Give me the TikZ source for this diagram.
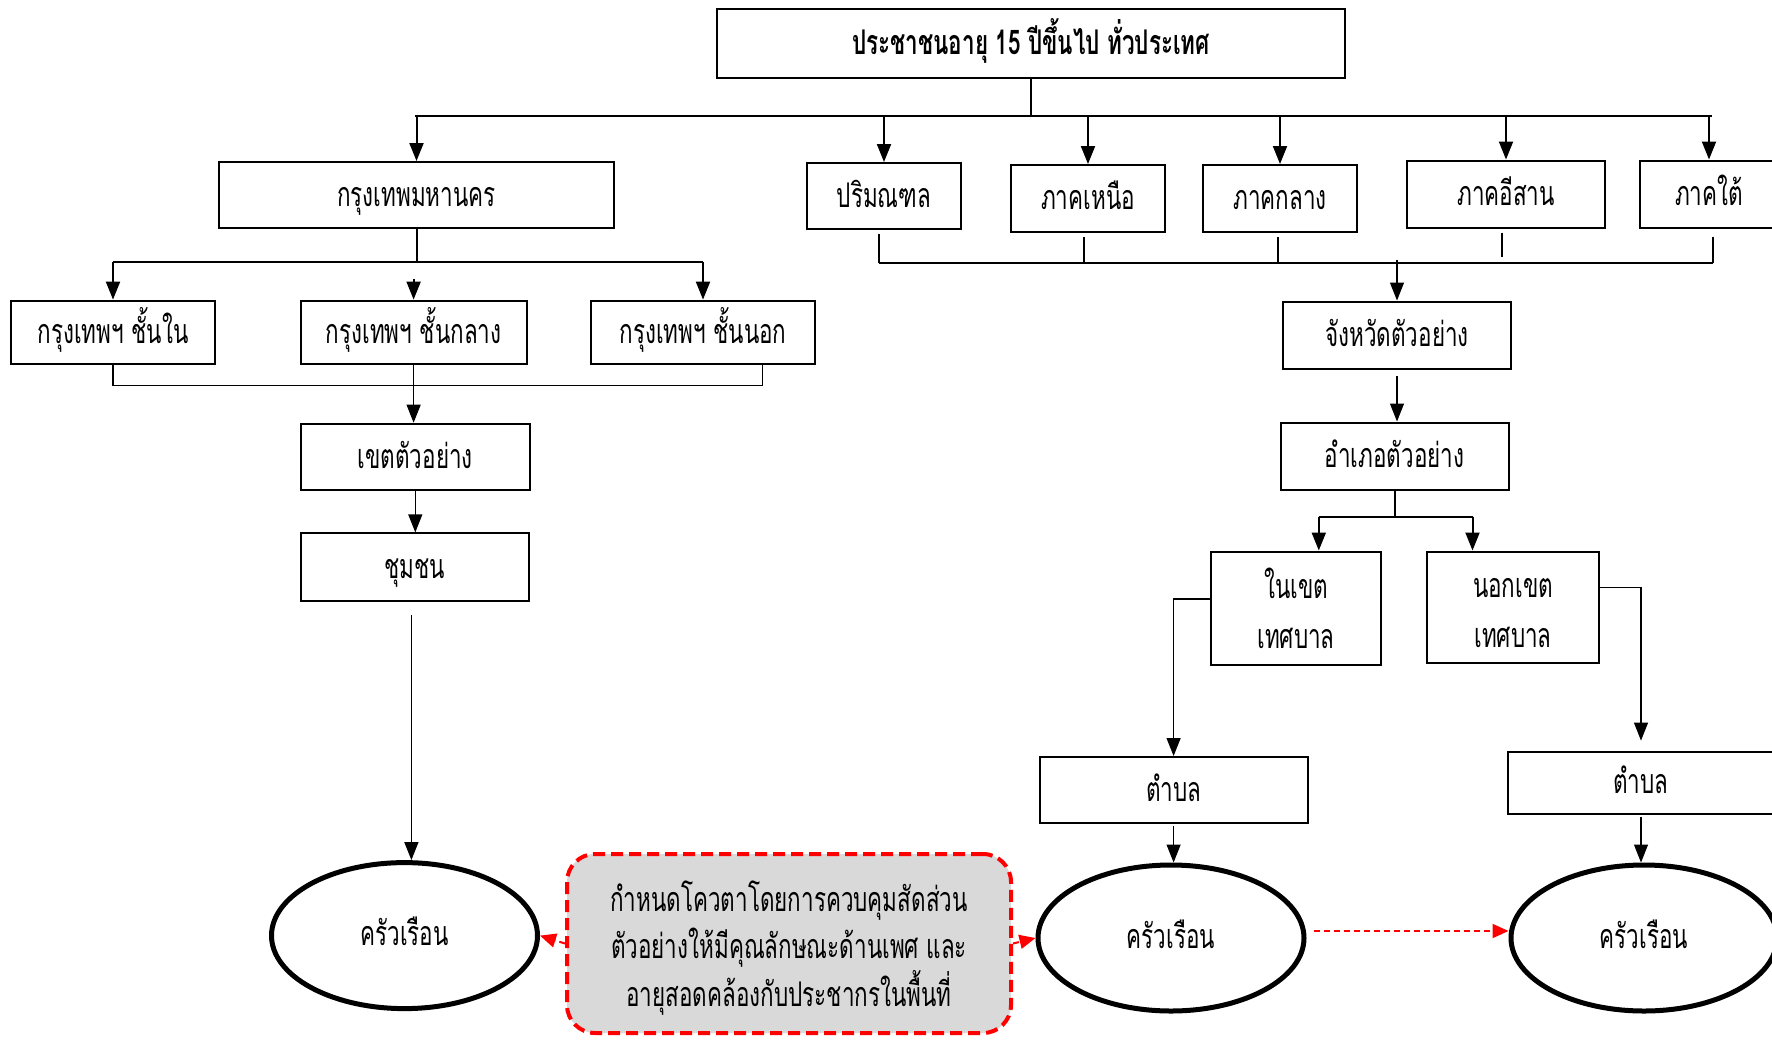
\documentclass[tikz,border=0pt]{standalone}
\usepackage{fontspec}
\newfontfamily\thai[Script=Thai,FakeStretch=0.66]{Loma}
\usetikzlibrary{arrows.meta,shapes.geometric}
\definecolor{notegray}{HTML}{D9D9D9}
\tikzset{
  multibox/.style={draw, line width=1pt, inner sep=0pt, align=center, font=\thai\fontsize{17pt}{25pt}\selectfont},
  box/.style={multibox, text height=11.3pt, text depth=0pt},
  tip/.style={-{Triangle[width=7pt,length=9pt]}},
  conn/.style={line width=1pt},
  thinconn/.style={line width=0.6pt},
  hh/.style={draw, ellipse, line width=2.5pt, minimum width=133pt, minimum height=73pt, inner sep=0pt, text height=10pt, text depth=0pt, font=\thai\fontsize{17pt}{25pt}\selectfont},
  redarr/.style={draw=red, line width=1pt, dash pattern=on 3pt off 2pt, -{Triangle[width=7pt,length=8pt]}, red},
}
\begin{document}
\begin{tikzpicture}[x=0.5pt,y=-0.5pt]
\useasboundingbox (0,0) rectangle (1772,1039);
% top
\node[box, minimum width=314pt, minimum height=34.5pt, font=\thai\bfseries\fontsize{17pt}{25pt}\selectfont] (top) at (1031,43.5) {ประชาชนอายุ 15 ปีขึ้นไป ทั่วประเทศ};
% regions
\node[box, minimum width=197.5pt, minimum height=33pt] (bkk) at (416.5,195) {กรุงเทพมหานคร};
\node[box, minimum width=77pt, minimum height=33pt] (pm) at (884,196) {ปริมณฑล};
\node[box, minimum width=77pt, minimum height=33.5pt] (north) at (1088,198.5) {ภาคเหนือ};
\node[box, minimum width=77pt, minimum height=33.5pt] (central) at (1280,198.5) {ภาคกลาง};
\node[box, minimum width=99pt, minimum height=33.5pt] (ne) at (1506,194) {ภาคอีสาน};
\node[box, minimum width=69pt, minimum height=33.5pt] (south) at (1709,194) {ภาคใต้};
% bangkok sub
\node[box, minimum width=101.7pt, minimum height=31.7pt] (inner) at (113,332.3) {กรุงเทพฯ ชั้นใน};
\node[box, minimum width=113pt, minimum height=31.7pt] (middle) at (413.6,332.3) {กรุงเทพฯ ชั้นกลาง};
\node[box, minimum width=111.9pt, minimum height=31.7pt] (outer) at (703,332.3) {กรุงเทพฯ ชั้นนอก};
\node[box, minimum width=114.7pt, minimum height=33.3pt] (khet) at (415.3,457) {เขตตัวอย่าง};
\node[box, minimum width=114.2pt, minimum height=33.9pt] (chum) at (414.8,567.3) {ชุมชน};
% provinces
\node[box, minimum width=114pt, minimum height=33.5pt] (prov) at (1397,335) {จังหวัดตัวอย่าง};
\node[box, minimum width=114pt, minimum height=33.5pt] (dist) at (1394.5,456) {อำเภอตัวอย่าง};
\node[multibox, minimum width=84.7pt, minimum height=56.5pt] (inm) at (1296,608) {ในเขต\\เทศบาล};
\node[multibox, minimum width=86pt, minimum height=55.5pt] (outm) at (1513,607) {\vphantom{ใ}นอกเขต\\เทศบาล};
\node[box, minimum width=134pt, minimum height=33pt] (tamL) at (1173.6,790) {ตำบล};
\node[box, minimum width=133.5pt, minimum height=31pt] (tamR) at (1641,782.6) {ตำบล};
% households
\node[hh] (hhL) at (404.5,935.6) {ครัวเรือน};
\node[hh] (hhM) at (1171,938) {ครัวเรือน};
\node[hh] (hhR) at (1644,938) {ครัวเรือน};
% note
\node[draw=red, fill=notegray, line width=2pt, dash pattern=on 6pt off 3pt, rounded corners=14pt, minimum width=222pt, minimum height=89.5pt, inner sep=0pt, align=center, font=\thai\fontsize{17pt}{23.7pt}\selectfont] (note) at (789,943.5) {กำหนดโควตาโดยการควบคุมสัดส่วน\\ตัวอย่างให้มีคุณลักษณะด้านเพศ และ\\\raisebox{0pt}[\height][0pt]{อายุสอดคล้องกับประชากรในพื้นที่}};
% top bus
\coordinate (busL) at (414.8,116.4);
\coordinate (busR) at (1712,116.4);
\draw[conn] (top.south) -- (top.south |- busL);
\draw[conn] (busL) -- (busR);
\foreach \n in {bkk,pm,north,central,ne,south}{
  \draw[conn,tip] (\n.north |- busL) -- (\n.north);
}
% bangkok bus
\coordinate (lb) at (0,262);
\draw[conn] (bkk.south) -- (bkk.south |- lb);
\draw[conn] (inner.north |- lb) -- (outer.north |- lb);
\draw[conn,tip] (inner.north |- lb) -- (inner.north);
\draw[conn,tip] (outer.north |- lb) -- (outer.north);
\draw[conn,tip] ([yshift=-8.5pt]middle.north |- lb) -- (middle.north);
% bangkok lower bus
\coordinate (lb2) at (0,385.4);
\coordinate (lb2R) at (762.8,385.4);
\draw[thinconn] (inner.south) -- (inner.south |- lb2) -- (lb2R) -- (lb2R |- outer.south);
\draw[thinconn,tip] (middle.south) -- (middle.south |- khet.north);
\draw[thinconn,tip] (khet.south) -- (khet.south |- chum.north);
\coordinate (ccx) at (411.4,614.8);
\draw[thinconn,tip] (ccx) -- (ccx |- hhL.north);
% region lower bus
\coordinate (rbL) at (879,263);
\coordinate (rbR) at (1713,263);
\draw[conn] (rbL) -- (rbR);
\draw[thinconn] ([xshift=-2.5pt,yshift=-2pt]pm.south) -- ([xshift=-2.5pt]pm.south |- rbL);
\draw[thinconn] ([xshift=-2pt,yshift=-2pt]north.south) -- ([xshift=-2pt]north.south |- rbL);
\draw[thinconn] ([xshift=-1pt,yshift=-2pt]central.south) -- ([xshift=-1pt]central.south |- rbL);
\draw[thinconn] ([xshift=-2pt,yshift=-2pt]ne.south) -- ([xshift=-2pt,yshift=3pt]ne.south |- rbL);
\draw[thinconn] ([xshift=2pt,yshift=-4pt]south.south) -- ([xshift=2pt]south.south |- rbL);
\draw[thinconn,tip] ([yshift=1.5pt]prov.north |- rbL) -- (prov.north);
\draw[thinconn,tip] ([yshift=-3pt]prov.south) -- (prov.south |- dist.north);
% district split
\coordinate (db) at (0,516.5);
\coordinate (dbL) at (1318.8,516.5);
\coordinate (dbR) at (1472.5,516.5);
\draw[conn] (dist.south) -- (dist.south |- db);
\draw[conn] (dbL) -- (dbR);
\draw[conn,tip] (dbL) -- (dbL |- inm.north);
\draw[conn,tip] (dbR) -- (dbR |- outm.north);
\draw[thinconn,tip] ([yshift=4.5pt]inm.west) -| (tamL.north);
\draw[thinconn,tip] ([yshift=9.7pt]outm.east) -| ([yshift=5pt]tamR.north);
\draw[thinconn,tip] ([yshift=-1pt]tamL.south) -- (tamL.south |- hhM.north);
\draw[thinconn,tip] ([yshift=-1pt]tamR.south) -- (tamR.south |- hhR.north);
% red arrows
\draw[redarr] (note.west) -- (hhL.east);
\draw[redarr] (note.east) -- (hhM.west);
\draw[redarr] ([xshift=3.5pt,yshift=3.5pt]hhM.east) -- ([yshift=3.5pt]hhR.west);
\end{tikzpicture}
\end{document}
